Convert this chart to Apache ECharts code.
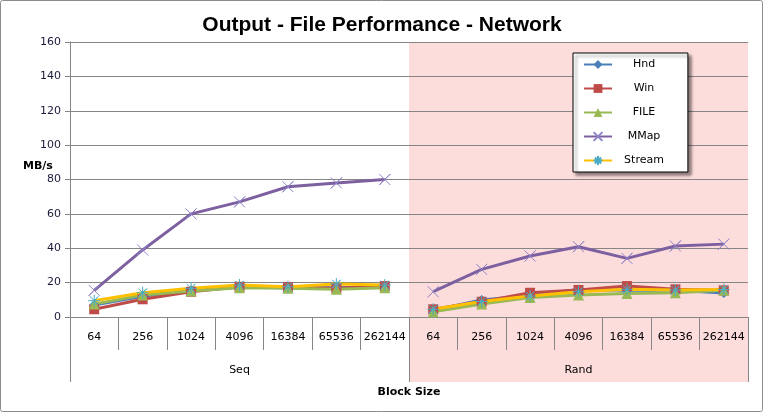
<!DOCTYPE html>
<html><head><meta charset="utf-8">
<script src="https://cdn.jsdelivr.net/npm/echarts@6/dist/echarts.min.js"></script>
<style>html,body{margin:0;padding:0;background:#fff}#c{width:764px;height:413px}</style>
</head><body><div id="c"></div>
<script>
const groups = ['Seq', 'Rand'];
const blockSizes = ['64', '256', '1024', '4096', '16384', '65536', '262144'];
const yTicks = [0, 20, 40, 60, 80, 100, 120, 140, 160];
const hnd    = [7, 12, 15.5, 17.5, 17, 17, 17.5,   4, 9.9, 12.5, 16, 15.5, 15.5, 14];
const win    = [4.5, 10.3, 14.7, 17.6, 17.5, 16.7, 18,   4.5, 8.9, 14.1, 15.7, 18, 16.1, 15.5];
const file   = [7.5, 12.8, 15.1, 17, 16.7, 16.1, 17,   3, 7.5, 11.4, 12.8, 13.7, 14.1, 15.5];
const mmap   = [15.5, 39, 60, 67, 75.8, 78, 80,   14.7, 27.7, 35.5, 40.9, 34.1, 41.3, 42.4];
const stream = [9.5, 14.1, 16.7, 18.6, 17.6, 19.2, 18.6,   4.5, 9, 12.2, 14.7, 16.1, 15.7, 16];

const cats = [];
groups.forEach(g => blockSizes.forEach(b => cats.push(g + '|' + b)));
const n = blockSizes.length;

const FONT = 'DejaVu Sans';
const GRAY = '#868686';
const chart = echarts.init(document.getElementById('c'));

const xCross = 'path://M0,0 L10,10 M10,0 L0,10 Z';
const star = 'path://M5,0 L5,10 M0,5 L10,5 M1.5,1.5 L8.5,8.5 M8.5,1.5 L1.5,8.5 Z';

function part(data, gi) {
  return data.map((v, i) => (Math.floor(i / n) === gi ? v : null));
}
function mk(name, data, color, symbol, size, itemStyle) {
  return groups.map((g, gi) => ({
    name, type: 'line', data: part(data, gi), symbol, symbolSize: size,
    connectNulls: false,
    xAxisIndex: 0, yAxisIndex: 0,
    lineStyle: { color, width: 3 },
    itemStyle: itemStyle || { color },
    emphasis: { disabled: true },
    animation: false
  }));
}

chart.setOption({
  animation: false,
  title: [{
    text: 'Output - File Performance - Network',
    left: 'center', top: 10,
    textStyle: { fontFamily: 'Liberation Sans', fontWeight: 'bold', fontSize: 21, color: '#000' }
  }, {
    text: 'MB/s', left: 18, top: 156,
    textStyle: { fontFamily: FONT, fontWeight: 'bold', fontSize: 11, color: '#000' }
  }],
  grid: { left: 70, right: 16, top: 42, bottom: 96, containLabel: false },
  legend: {
    orient: 'vertical', left: 573, top: 53,
    itemWidth: 28, itemHeight: 11, itemGap: 13,
    padding: [6, 24, 6, 10],
    backgroundColor: '#fff', borderColor: '#000', borderWidth: 1,
    shadowColor: 'rgba(0,0,0,0.45)', shadowBlur: 3, shadowOffsetX: 3, shadowOffsetY: 3,
    formatter: name => '{a|' + name + '}',
    textStyle: { fontFamily: FONT, fontSize: 11, color: '#000',
      rich: { a: { width: 54, align: 'center', fontFamily: FONT, fontSize: 11, color: '#000' } } },
    data: ['Hnd', 'Win', 'FILE', 'MMap', 'Stream']
  },
  xAxis: [{
    type: 'category', data: cats, boundaryGap: true, position: 'bottom',
    axisLine: { show: true, lineStyle: { color: GRAY, width: 1 } },
    axisTick: { show: true, length: 33, interval: 0, lineStyle: { color: GRAY } },
    axisLabel: { interval: 0, margin: 15, fontFamily: FONT, fontSize: 11, color: '#000',
      formatter: v => v.split('|')[1] },
    splitLine: { show: false }
  }, {
    type: 'category', data: groups, boundaryGap: true, position: 'bottom',
    name: 'Block Size', nameLocation: 'middle', nameGap: 70,
    nameTextStyle: { fontFamily: FONT, fontWeight: 'bold', fontSize: 11, color: '#000' },
    axisLine: { show: false },
    axisTick: { show: true, length: 65, interval: 0, lineStyle: { color: GRAY } },
    axisLabel: { interval: 0, margin: 48, fontFamily: FONT, fontSize: 11, color: '#000' },
    splitLine: { show: false }
  }],
  yAxis: {
    type: 'value', min: yTicks[0], max: yTicks[yTicks.length - 1], interval: 20,
    axisLine: { show: true, lineStyle: { color: GRAY } },
    axisTick: { show: true, length: 5, lineStyle: { color: GRAY } },
    axisLabel: { margin: 9, fontFamily: FONT, fontSize: 11, color: '#1a1a3a' },
    splitLine: { lineStyle: { color: GRAY, width: 1 } }
  },
  series: [].concat(
    mk('Hnd', hnd, '#4a7ebb', 'diamond', 10),
    mk('Win', win, '#be4b48', 'rect', 10),
    mk('FILE', file, '#98b954', 'triangle', 11),
    mk('MMap', mmap, '#7d60a0', xCross, 11, { color: '#7d60a0', borderColor: '#8f83c8', borderWidth: 1 }),
    mk('Stream', stream, '#ffc000', star, 12, { color: '#4bacc6', borderColor: '#4bacc6', borderWidth: 1 })
  )
});

const px = i => chart.convertToPixel({ xAxisIndex: 0 }, cats[i]);
const half = (px(n) - px(n - 1)) / 2;
const x0 = px(n) - half, x1 = px(cats.length - 1) + half;
const yTop = chart.convertToPixel({ yAxisIndex: 0 }, yTicks[yTicks.length - 1]);
const yBot = chart.convertToPixel({ yAxisIndex: 0 }, yTicks[0]);
chart.setOption({
  graphic: [{
    type: 'rect', z: -10, silent: true,
    shape: { x: x0, y: yTop, width: x1 - x0, height: yBot - yTop + 65 },
    style: { fill: '#fddcdc' }
  }, {
    type: 'rect', z: 100, silent: true,
    shape: { x: 0.5, y: 0.5, width: 762, height: 411, r: 2 },
    style: { fill: 'none', stroke: '#8c8c8c', lineWidth: 1 }
  }]
});
</script></body></html>
